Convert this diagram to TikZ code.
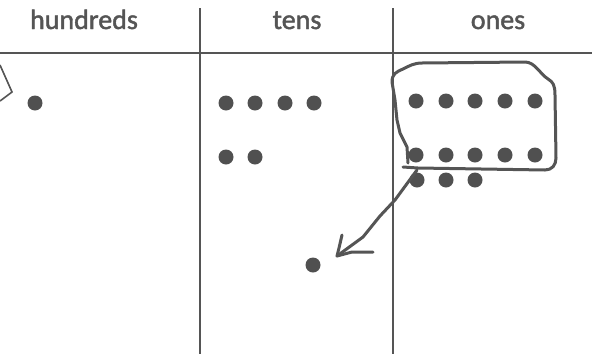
\documentclass[tikz,border=0pt]{standalone}
\usepackage{fontspec}
\setmainfont{Carlito}
\newfontfamily\headfont[RawFeature={embolden=1.6}]{Carlito}
\begin{document}
\begin{tikzpicture}[x=1pt,y=-1pt,
  rule/.style={draw=inkgray,line width=1.4pt},
  dot/.style={circle,fill=dotgray,inner sep=0pt,minimum size=15pt},
  head/.style={anchor=base,text=inkgray,font=\headfont\fontsize{28}{30}\selectfont,inner sep=0pt},
  hand/.style={draw=inkgray,line width=3pt,line join=round,line cap=round}]
\definecolor{inkgray}{HTML}{555555}
\definecolor{dotgray}{HTML}{505050}
\useasboundingbox[fill=white] (0,0) rectangle (592,354);
% table rules
\coordinate (hl) at (0,53);
\coordinate (hr) at (592,53);
\coordinate (v1t) at (200,8);
\coordinate (v1b) at (200,354);
\coordinate (v2t) at (393,8);
\coordinate (v2b) at (393,354);
\draw[rule] (hl) -- (hr);
\draw[rule] (v1t) -- (v1b);
\draw[rule] (v2t) -- (v2b);
% headers
\node[head] (hh) at (84,29) {hundreds};
\node[head] (ht) at (297,29) {tens};
\node[head] (ho) at (498,29) {ones};
% partial shape at left edge
\coordinate (e1) at (0,65);
\coordinate (e2) at (12,92);
\coordinate (e3) at (0,101);
\draw[draw=inkgray,line width=1.6pt,line join=miter] (e1) -- (e2) -- (e3);
% hundreds
\node[dot] (h1) at (35,103) {};
% tens
\node[dot] (t1) at (226,103) {};
\node[dot] (t2) at (255,103) {};
\node[dot] (t3) at (285,103) {};
\node[dot] (t4) at (314,103) {};
\node[dot] (t5) at (226,157) {};
\node[dot] (t6) at (255,157) {};
% ones
\foreach \i/\x in {1/416,2/446,3/475,4/505,5/535}{
  \node[dot] (oa\i) at (\x,101) {};
  \node[dot] (ob\i) at (\x,155) {};
}
\node[dot] (oc1) at (417,180) {};
\node[dot] (oc2) at (446,180) {};
\node[dot] (oc3) at (475,180) {};
% carried dot
\node[dot] (c1) at (313,265) {};
% hand-drawn loop
\draw[hand] (408,163) -- (407,147) -- (400,133) -- (397,120) -- (395,100) -- (392,82)
  .. controls (392,74) and (396,72) .. (403,69)
  .. controls (409,66) and (414,63) .. (422,63)
  -- (525,62)
  .. controls (535,62) and (540,74) .. (548,79)
  .. controls (553,82) and (555,85) .. (555,95)
  -- (556,158)
  .. controls (556,165) and (552,170) .. (545,170)
  -- (418,168) -- (403,167);
% arrow
\coordinate (a0) at (417,170);
\coordinate (a1) at (395,200);
\coordinate (a2) at (380,216);
\coordinate (a3) at (363,237);
\coordinate (tip) at (337,256);
\coordinate (b1) at (342,235);
\coordinate (b2) at (373,252);
\draw[hand] (a0) -- (a1) -- (a2) -- (a3) -- (tip);
\draw[hand] (b1) -- (339,248) -- (tip) -- (352,252) -- (b2);
\end{tikzpicture}
\end{document}
